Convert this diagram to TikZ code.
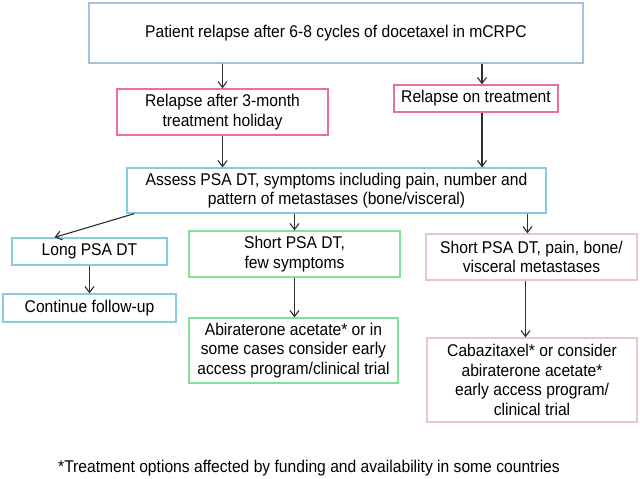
\documentclass[tikz,border=0pt]{standalone}
\usepackage{fontspec}
\setmainfont{Liberation Sans}[FakeStretch=0.92]
\usetikzlibrary{arrows.meta}
\definecolor{steelline}{HTML}{A6C2DA}
\definecolor{cyanline}{HTML}{86CBE2}
\definecolor{roseline}{HTML}{E8709C}
\definecolor{greenline}{HTML}{84E094}
\definecolor{paleline}{HTML}{E6C6D6}
\definecolor{inkgray}{HTML}{2E2E2E}
\begin{document}
\begin{tikzpicture}[x=1bp,y=-1bp,
    box/.style={draw,line width=1.2bp,align=center,inner sep=2bp,
      font=\fontsize{17bp}{19.5bp}\selectfont,text=black},
    arr/.style={->,>={Straight Barb[length=6bp,width=9bp]},line width=1.1bp,color=inkgray}]
    \useasboundingbox[fill=white] (0,0) rectangle (640,479);

    \node[box,draw=steelline,minimum width=494bp,minimum height=60bp] (top) at (336,33)
      {Patient relapse after 6-8 cycles of docetaxel in mCRPC};
    \node[box,draw=roseline,minimum width=211bp,minimum height=46bp] (hol) at (222.5,112)
      {Relapse after 3-month\\treatment holiday};
    \node[box,draw=roseline,minimum width=164bp,minimum height=27bp] (ontr) at (476,98.5)
      {Relapse on treatment};
    \node[box,draw=cyanline,minimum width=419bp,minimum height=45bp] (assess) at (336.5,190.5)
      {Assess PSA DT, symptoms including pain, number and\\pattern of metastases (bone/visceral)};

    \node[box,draw=cyanline,minimum width=155bp,minimum height=27bp] (longp) at (89.5,251.5)
      {Long PSA DT};
    \node[box,draw=cyanline,minimum width=173bp,minimum height=28bp] (cont) at (89.5,308)
      {Continue follow-up};
    \node[box,draw=greenline,minimum width=211bp,minimum height=46bp] (fewsym) at (294.5,254)
      {Short PSA DT,\\few symptoms};
    \node[box,draw=greenline,minimum width=209bp,minimum height=65bp] (abir) at (293.5,350.5)
      {Abiraterone acetate* or in\\some cases consider early\\access program/clinical trial};
    \node[box,draw=paleline,minimum width=211bp,minimum height=46bp] (pain) at (531.5,257)
      {Short PSA DT, pain, bone/\\visceral metastases};
    \node[box,draw=paleline,minimum width=210bp,minimum height=84bp] (cabaz) at (532,380)
      {Cabazitaxel* or consider\\abiraterone acetate*\\early access program/\\clinical trial};

    \node[font=\fontsize{17bp}{19.5bp}\selectfont] (note) at (309,468)
      {*Treatment options affected by funding and availability in some countries};

    \draw[arr] (top.south -| hol.north) -- (hol.north);
    \draw[arr] ([xshift=6bp]top.south -| ontr.north) -- ([xshift=6bp]ontr.north);
    \draw[arr] (hol.south) -- (assess.north -| hol.south);
    \draw[arr] ([xshift=6bp]ontr.south) -- ([xshift=6bp]assess.north -| ontr.south);
    \draw[arr] ([xshift=8bp]assess.south west) -- ([xshift=-35bp]longp.north);
    \draw[arr] (assess.south -| fewsym.north) -- (fewsym.north);
    \draw[arr] ([xshift=-4bp]assess.south -| pain.north) -- ([xshift=-4bp]pain.north);
    \draw[arr] (longp.south) -- (longp.south |- cont.north);
    \draw[arr] (fewsym.south) -- (fewsym.south |- abir.north);
    \draw[arr] ([xshift=-6bp]pain.south) -- ([xshift=-6bp]pain.south |- cabaz.north);
\end{tikzpicture}
\end{document}
